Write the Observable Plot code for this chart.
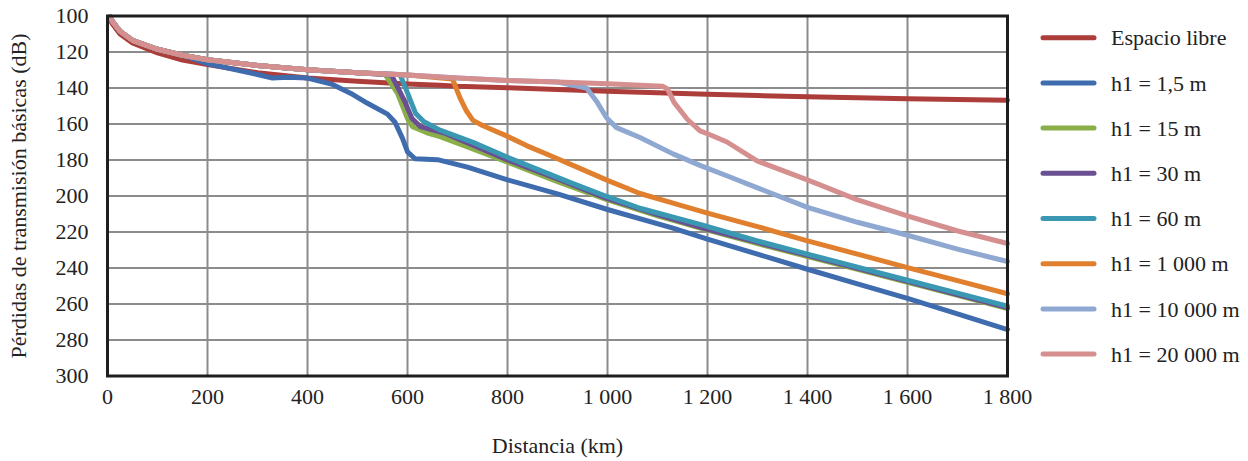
<!DOCTYPE html>
<html>
<head>
<meta charset="utf-8">
<script src="https://cdn.jsdelivr.net/npm/d3@7"></script>
<script src="https://cdn.jsdelivr.net/npm/@observablehq/plot@0.6"></script>
<style>
  body { margin: 0; background: #fff; }
  #wrap { position: relative; width: 1248px; height: 461px; background: #fff;
          font-family: "Liberation Serif", "Times New Roman", serif; color: #222; }
  #chart { position: absolute; left: 0; top: 0; }
  #legend { position: absolute; left: 1030px; top: 0; }
</style>
</head>
<body>
<div id="wrap"><div id="chart"></div><svg id="legend" width="218" height="461"></svg></div>
<script>
// ---- Data ----
const series = ["Espacio libre", "h1 = 1,5 m", "h1 = 15 m", "h1 = 30 m", "h1 = 60 m",
                "h1 = 1 000 m", "h1 = 10 000 m", "h1 = 20 000 m"];
const colors = ["#AD3D3A", "#3E6CAE", "#8AAE48", "#6B4F93", "#3A98B2", "#E0802F", "#8EA8D1", "#D58F8F"];

const xTicks = [0, 200, 400, 600, 800, 1000, 1200, 1400, 1600, 1800];
const yTicks = [100, 120, 140, 160, 180, 200, 220, 240, 260, 280, 300];
const xLabel = "Distancia (km)";
const yLabel = "Pérdidas de transmisión básicas (dB)";

// shared upper (line-of-sight) part of the h1 curves
const topDist = [5, 10, 25, 50, 100, 150, 200, 300, 400, 500, 600, 700, 800, 900, 1000, 1110];
const topLoss = [100.5, 103, 108.5, 113.5, 118.5, 121.8, 124.3, 127.5, 129.9, 131.5, 132.8, 134.5, 135.8, 136.7, 137.6, 139];

const freeDist = [5, 10, 25, 50, 100, 150, 200, 300, 400, 500, 600, 665, 700, 800, 900, 1000, 1100, 1200, 1300, 1400, 1500, 1600, 1700, 1800];
const freeLoss = [102, 104.5, 110, 115, 120.5, 124.5, 127, 131.5, 134.5, 136.3, 137.8, 138.5, 139, 139.8, 140.8, 141.8, 142.7, 143.5, 144.2, 144.8, 145.4, 146, 146.4, 146.8];

const h1_5Dist = [200, 250, 300, 330, 360, 400, 450, 490, 520, 560, 575, 590, 600, 615, 660, 720, 800, 900, 1000, 1131, 1200, 1300, 1400, 1500, 1600, 1700, 1800];
const h1_5Loss = [126.5, 129.5, 132.5, 134.5, 134, 134.5, 138, 143.5, 148.5, 154.5, 159, 168, 175.5, 179.3, 179.8, 184, 191, 198.8, 207.5, 217.8, 224, 232.3, 240.7, 248.8, 256.9, 265.5, 274.2];

const h15Dist = [555, 580, 600, 610, 640, 665, 720, 800, 900, 1000, 1100, 1200, 1300, 1400, 1500, 1600, 1700, 1800];
const h15Loss = [132.3, 143, 157, 161.5, 165, 167, 172.7, 181.2, 192, 202.2, 211, 219, 226.5, 233.6, 240.8, 248, 255.2, 262.5];

const h30Dist = [568, 593, 609, 626, 673, 731, 800, 900, 1000, 1100, 1200, 1300, 1400, 1500, 1600, 1700, 1800];
const h30Loss = [132.8, 146.6, 156.9, 161.5, 165, 171.8, 180, 190.5, 201.5, 210.3, 218.5, 225.8, 233, 240.2, 247.4, 254.7, 262];

const h60Dist = [585, 603, 616, 633, 665, 731, 800, 865, 931, 1000, 1065, 1185, 1300, 1400, 1500, 1600, 1700, 1800];
const h60Loss = [132.5, 144.8, 154, 158.8, 163.4, 170.2, 178.5, 185.8, 193.1, 200.4, 206.8, 215.8, 225, 232.3, 239.5, 246.8, 254, 261.2];

const h1000Dist = [690, 705, 718, 731, 751, 798, 838, 885, 931, 1000, 1065, 1131, 1200, 1300, 1400, 1500, 1600, 1700, 1800];
const h1000Loss = [135, 145.5, 152.8, 158, 161, 166.6, 172, 177.5, 183, 191.3, 198.6, 204, 209.5, 217, 224.9, 232.3, 239.8, 247, 254.3];

const h10000Dist = [958, 978, 998, 1018, 1065, 1131, 1185, 1250, 1300, 1400, 1500, 1600, 1700, 1800];
const h10000Loss = [140, 147.3, 156.5, 162, 167.5, 176.6, 183, 190, 195.5, 206.3, 214.6, 221.8, 229.5, 236.4];

const h20000Dist = [1120, 1133, 1160, 1185, 1205, 1239, 1299, 1401, 1499, 1601, 1699, 1800];
const h20000Loss = [140.5, 148, 157.5, 163.8, 166, 170, 180.5, 191.2, 202, 211.2, 219.3, 226.4];

// ---- Build table ----
const rows = [];
function addFull(name, ds, ls) { ds.forEach((d, j) => rows.push({series: name, d, L: ls[j]})); }
function addWithTop(name, ds, ls) {
  topDist.forEach((d, j) => { if (d < ds[0]) rows.push({series: name, d, L: topLoss[j]}); });
  addFull(name, ds, ls);
}
addFull(series[0], freeDist, freeLoss);
addWithTop(series[1], h1_5Dist, h1_5Loss);
addWithTop(series[2], h15Dist, h15Loss);
addWithTop(series[3], h30Dist, h30Loss);
addWithTop(series[4], h60Dist, h60Loss);
addWithTop(series[5], h1000Dist, h1000Loss);
addWithTop(series[6], h10000Dist, h10000Loss);
addWithTop(series[7], h20000Dist, h20000Loss);

const fmt = d => d >= 1000 ? d3.format(",")(d).replace(",", " ") : String(d);
const font = '"Liberation Serif", "Times New Roman", serif';

const plot = Plot.plot({
  width: 1030,
  height: 461,
  marginLeft: 107,
  marginRight: 23,
  marginTop: 15.5,
  marginBottom: 85.5,
  style: {fontFamily: font, fontSize: "22px", color: "#222", background: "#fff", overflow: "visible"},
  x: {domain: [0, 1800]},
  y: {domain: [100, 300], reverse: true},
  color: {domain: series, range: colors},
  marks: [
    Plot.gridX(xTicks, {stroke: "#8c8c8c", strokeOpacity: 1, strokeWidth: 2}),
    Plot.gridY(yTicks, {stroke: "#8c8c8c", strokeOpacity: 1, strokeWidth: 2}),
    Plot.axisX(xTicks, {tickSize: 0, tickPadding: 12, tickFormat: fmt, label: null, fontSize: 22}),
    Plot.axisY(yTicks, {tickSize: 0, tickPadding: 19, label: null, fontSize: 22}),
    Plot.line(rows, {x: "d", y: "L", z: "series", stroke: "series", strokeWidth: 5,
                     strokeLinecap: "round", strokeLinejoin: "round"}),
    Plot.frame({stroke: "#1e1e1e", strokeWidth: 3}),
    Plot.text([xLabel], {text: d => d, frameAnchor: "bottom", dy: 70, lineAnchor: "middle",
                         textAnchor: "middle", fontSize: 22}),
    Plot.text([yLabel], {text: d => d, frameAnchor: "left", dx: -89, rotate: -90,
                         textAnchor: "middle", lineAnchor: "middle", fontSize: 22})
  ]
});
document.getElementById("chart").appendChild(plot);

// ---- Legend ----
const lg = d3.select("#legend");
series.forEach((s, i) => {
  const y = 37.7 + i * 45.2;
  lg.append("line").attr("x1", 13).attr("x2", 64).attr("y1", y).attr("y2", y)
    .attr("stroke", colors[i]).attr("stroke-width", 5).attr("stroke-linecap", "round");
  lg.append("text").attr("x", 81).attr("y", y).attr("dy", "0.35em")
    .attr("font-family", font).attr("font-size", 22).attr("fill", "#222").text(s);
});
</script>
</body>
</html>
